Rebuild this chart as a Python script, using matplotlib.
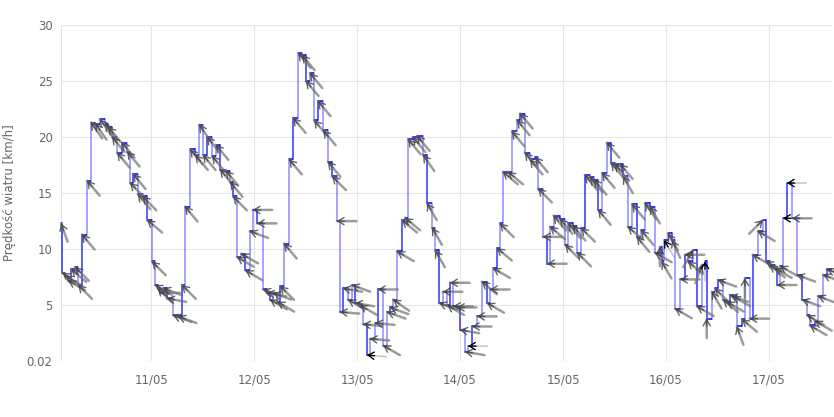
import numpy as np
import matplotlib
matplotlib.use("Agg")
import matplotlib.pyplot as plt

# hours since 10/05 00:00
hours = [3.0, 3.3, 4.0, 4.7, 5.4, 6.3, 7.0, 7.9, 9.1, 10.0, 11.0, 12.1, 13.3, 14.0,
         14.9, 16.1, 17.2, 18.4, 19.1, 19.8, 20.9, 22.0, 23.1, 24.2, 24.9, 25.6,
         26.1, 26.8, 27.7, 29.1, 30.3, 31.2, 31.9, 33.1, 34.3, 35.2, 36.1, 37.0,
         38.2, 39.1, 40.1, 41.4, 42.4, 43.1, 44.0, 45.0, 46.0, 47.0, 47.7, 48.7,
         50.1, 51.0, 51.7, 52.4, 53.4, 54.1, 55.0, 56.2, 57.1, 58.3, 59.2, 60.1,
         61.0, 62.0, 62.9, 64.1, 65.2, 66.2, 67.3, 68.0, 68.7, 69.9, 70.8, 71.5,
         72.7, 73.4, 74.3, 75.0, 76.2, 76.9, 78.1, 79.0, 79.7, 80.4, 81.3, 82.5,
         83.2, 83.9, 85.0, 86.0, 87.4, 88.3, 89.5, 90.2, 91.1, 92.0, 93.0, 93.7,
         94.4, 95.3, 96.0, 97.2, 97.9, 98.8, 100.0, 101.1, 102.3, 103.0, 103.7,
         104.6, 105.3, 106.0, 107.2, 108.1, 109.3, 110.0, 111.1, 112.3, 113.5,
         114.2, 115.3, 116.3, 117.0, 117.8, 119.3, 120.5, 121.2, 122.3, 123.3,
         124.2, 125.1, 126.3, 127.2, 128.2, 129.1, 130.2, 131.2, 132.1, 133.3,
         134.0, 135.1, 136.1, 137.2, 138.2, 139.1, 140.3, 141.4, 142.6, 143.0,
         143.6, 144.5, 145.4, 146.1, 147.3, 148.4, 149.1, 150.3, 151.2, 152.4,
         153.1, 153.5, 154.7, 155.4, 156.1, 157.3, 158.2, 158.9, 159.6, 160.5,
         161.7, 162.4, 163.5, 164.2, 165.4, 166.6, 167.3, 168.2, 169.4, 169.9,
         170.6, 171.3, 172.2, 173.4, 174.5, 175.7, 176.9, 177.5, 178.7, 179.4,
         180.6, 181.5]

speed = [12.3, 7.9, 7.6, 7.2, 8.2, 8.4, 6.8, 11.3, 16.1, 21.3, 21.2, 21.6, 21.2, 20.9,
         20.0, 18.6, 19.5, 18.7, 15.9, 16.7, 14.9, 14.7, 12.6, 8.9, 6.8, 6.5,
         6.1, 6.5, 5.6, 4.1, 4.0, 6.8, 13.8, 18.9, 18.4, 21.1, 18.4, 20.0,
         18.3, 19.3, 17.1, 17.0, 16.0, 14.7, 9.3, 9.6, 8.1, 11.6, 13.5, 12.3,
         6.4, 6.1, 5.5, 6.1, 5.3, 6.7, 10.5, 18.0, 21.7, 27.5, 27.3, 25.0,
         25.7, 21.5, 23.2, 20.6, 17.8, 16.5, 12.5, 4.4, 6.5, 5.5, 6.8, 5.2,
         5.0, 3.3, 0.55, 2.0, 3.4, 6.4, 1.4, 4.4, 4.8, 5.5, 9.8, 12.6,
         12.8, 19.8, 20.0, 20.1, 18.4, 14.1, 11.9, 9.9, 5.2, 6.2, 5.0, 7.0,
         4.9, 4.8, 2.8, 0.85, 1.35, 3.1, 4.0, 7.1, 5.2, 6.4, 8.3,
         10.1, 12.3, 16.9, 16.9, 20.5, 21.5, 22.1, 18.6, 18.0, 18.2,
         15.4, 11.1, 8.7, 12.0, 13.0, 12.7, 10.4, 12.3, 12.1, 9.7,
         11.9, 16.6, 16.4, 16.2, 13.5, 16.8, 19.5, 17.7, 17.6, 17.6,
         16.5, 12.0, 14.0, 11.1, 11.7, 14.1, 13.8, 9.7, 10.2, 8.9,
         10.8, 11.4, 10.8, 4.7, 7.3, 9.5, 8.9, 9.9, 4.9, 8.6,
         8.9, 3.8, 6.2, 6.5, 7.25, 5.5, 5.3, 5.9, 5.8, 3.1,
         3.75, 7.4, 3.8, 9.5, 11.6, 12.6, 8.9, 8.6, 8.3, 6.8,
         8.5, 12.75, 15.9, 12.75, 7.7, 5.5, 4.1, 3.2, 3.6, 5.8,
         7.7, 8.2]

# direction the arrow head points (compass degrees, 0 = up)
direction = [340, 305, 300, 300, 310, 315, 315, 320, 320, 325, 325, 325, 325, 320,
             320, 320, 320, 320, 315, 320, 320, 315, 310, 315, 300, 315,
             270, 290, 280, 290, 290, 315, 320, 320, 320, 325, 320, 320,
             320, 320, 320, 320, 320, 315, 300, 300, 300, 290, 270, 270,
             290, 280, 300, 290, 300, 315, 320, 320, 320, 320, 320, 320,
             320, 320, 320, 320, 320, 315, 270, 275, 280, 300, 290, 280,
             300, 275, 275, 275, 275, 270, 300, 290, 290, 305, 300, 310,
             310, 320, 320, 320, 325, 330, 330, 330, 290, 270, 300, 270,
             270, 270, 280, 280, 270, 270, 270, 310, 300, 270, 300,
             310, 315, 310, 310, 320, 320, 320, 320, 320, 320,
             315, 270, 270, 310, 320, 320, 315, 320, 320, 315,
             315, 320, 320, 320, 320, 320, 320, 320, 320, 320,
             330, 310, 320, 320, 320, 325, 330, 300, 0, 330,
             330, 330, 335, 300, 270, 270, 310, 30, 300, 20,
             0, 0, 330, 315, 290, 310, 300, 290, 300, 340,
             310, 0, 270, 300, 300, 45, 300, 310, 300, 270,
             300, 270, 270, 270, 290, 290, 300, 300, 300, 290,
             290, 290]

dark_arrows = [76, 102, 149, 159, 180, 181]

day_ticks = [24, 48, 72, 96, 120, 144, 168]
day_labels = ["11/05", "12/05", "13/05", "14/05", "15/05", "16/05", "17/05"]
y_ticks = [0.02, 5, 10, 15, 20, 25, 30]
y_labels = ["0.02", "5", "10", "15", "20", "25", "30"]

x_min, x_max = 3.0, 182.7

fig = plt.figure(figsize=(8.34, 4.17), dpi=100)
ax = fig.add_axes([61 / 834, 1 - 361 / 417, (832 - 61) / 834, 336 / 417])
ax.set_xlim(x_min, x_max)
ax.set_ylim(0.02, 30)

for s in ax.spines.values():
    s.set_visible(False)
ax.axvline(x_min, color="#e3e3e3", lw=0.8, zorder=0)
ax.set_yticks(y_ticks)
ax.set_yticklabels(y_labels)
ax.set_xticks(day_ticks)
ax.set_xticklabels(day_labels)
ax.tick_params(length=0, colors="#666666", labelsize=8.5)
ax.tick_params(axis="x", pad=9)
ax.tick_params(axis="y", pad=6)
ax.grid(True, color="#e6e6e6", lw=0.8)
ax.set_axisbelow(True)
ax.set_ylabel("Prędkość wiatru [km/h]", color="#666666", fontsize=8.5, labelpad=8)

# step line: horizontal parts solid blue, vertical jumps lighter
n = len(hours)
for i in range(n):
    x_end = hours[i + 1] if i + 1 < n else x_max
    ax.plot([hours[i], x_end], [speed[i], speed[i]], color="#0000ff", lw=1.1,
            solid_capstyle="butt", zorder=3)
    if i + 1 < n:
        ax.plot([x_end, x_end], [speed[i], speed[i + 1]], color="#0000ff",
                alpha=0.45 if i % 3 else 0.8, lw=1.1, zorder=2)

# wind direction arrows: light grey shaft, small darker head
L = 14
for i in range(n):
    d = np.radians(direction[i])
    dx, dy = -L * np.sin(d), -L * np.cos(d)
    dark = i in dark_arrows
    ax.annotate("", xy=(hours[i], speed[i]), xytext=(dx, dy),
                textcoords="offset points", annotation_clip=False,
                arrowprops=dict(arrowstyle="-", color=(0.45, 0.45, 0.45, 0.45 if dark else 0.7),
                                lw=1.0 if dark else 1.8, shrinkA=0, shrinkB=0),
                zorder=4)
    ax.annotate("", xy=(hours[i], speed[i]), xytext=(dx * 0.4, dy * 0.4),
                textcoords="offset points", annotation_clip=False,
                arrowprops=dict(arrowstyle="->,head_length=0.42,head_width=0.26",
                                color="black" if dark else (0.28, 0.28, 0.28, 0.85),
                                lw=1.0, shrinkA=0, shrinkB=0),
                zorder=5)

plt.savefig("out.png", dpi=100)
